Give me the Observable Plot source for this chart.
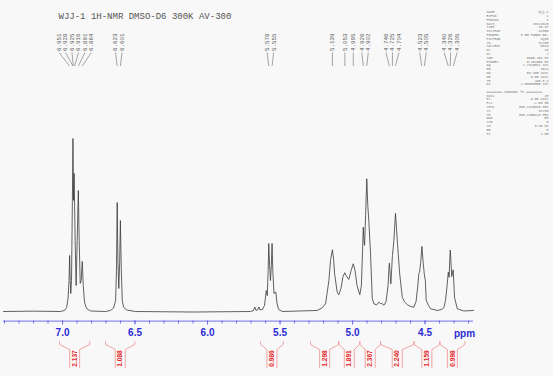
<!DOCTYPE html>
<html><head><meta charset="utf-8">
<script src="https://cdn.jsdelivr.net/npm/d3@7"></script>
<script src="https://cdn.jsdelivr.net/npm/@observablehq/plot@0.6"></script>
<style>html,body{margin:0;padding:0;background:#f8f8f8;} svg{display:block}</style>
</head><body><div id="chart"></div>
<script>
// ---------- data ----------
const titleText = "WJJ-1 1H-NMR DMSO-D6 300K AV-300";

// spectrum trace: [ppm, relative intensity %]
const spectrum = [
[7.407,0],[7.200,0.2],[7.014,0],[6.986,0.6],[6.972,2.3],[6.962,7.5],[6.955,17.9],[6.951,32.4],[6.947,17.9],[6.943,10.4],[6.938,17.9],[6.932,64.2],[6.928,100],[6.924,64.2],[6.920,79.8],[6.913,41.0],[6.906,15.0],[6.899,41.0],[6.891,69.9],[6.885,41.0],[6.878,16.2],[6.871,17.9],[6.864,28.9],[6.857,15.0],[6.848,5.2],[6.834,1.7],[6.807,0.3],[6.703,0],[6.669,0.6],[6.648,2.0],[6.634,6.4],[6.628,23.7],[6.623,63.0],[6.618,29.5],[6.612,13.3],[6.606,28.3],[6.601,52.6],[6.595,24.9],[6.588,6.4],[6.579,2.6],[6.559,0.9],[6.497,0],
[6.100,-0.3],[5.703,0],[5.683,0.6],[5.674,2.6],[5.666,0.6],[5.655,0.9],[5.646,2.6],[5.638,0.9],[5.621,1.2],[5.607,3.5],[5.595,12.1],[5.588,9.2],[5.582,23.7],[5.578,39.3],[5.572,26.6],[5.566,17.9],[5.560,26.6],[5.555,39.3],[5.550,23.7],[5.542,10.4],[5.529,11.3],[5.521,4.6],[5.510,1.2],[5.483,0],
[5.243,0.6],[5.207,2.3],[5.186,4.6],[5.163,17.9],[5.152,29.5],[5.139,35.7],[5.131,30.6],[5.124,22.0],[5.106,11.2],[5.095,9.7],[5.080,13.3],[5.066,20.2],[5.053,22.4],[5.045,20.8],[5.026,18.5],[5.010,23.7],[4.995,27.6],[4.983,23.7],[4.969,15.0],[4.950,9.7],[4.939,15.0],[4.931,35.3],[4.926,48.7],[4.921,41.0],[4.917,38.2],[4.910,55.5],[4.902,76.7],[4.895,61.3],[4.888,52.6],[4.876,33.4],[4.864,7.5],[4.853,4.5],[4.834,3.8],[4.819,5.4],[4.807,4.6],[4.796,4.5],[4.783,3.6],[4.769,5.8],[4.755,15.0],[4.750,23.7],[4.746,27.9],[4.740,20.8],[4.736,16.0],[4.730,24.9],[4.725,32.4],[4.715,41.0],[4.709,49.7],[4.704,56.8],[4.697,48.0],[4.690,39.1],[4.675,21.8],[4.657,8.1],[4.641,5.5],[4.623,4.0],[4.600,2.9],[4.577,2.5],[4.562,5.8],[4.550,15.0],[4.543,22.0],[4.538,22.7],[4.530,28.3],[4.522,37.6],[4.513,28.3],[4.505,21.4],[4.498,17.9],[4.492,6.4],[4.476,3.5],[4.462,1.6],[4.416,0.6],[4.386,1.2],[4.370,2.3],[4.359,6.4],[4.348,15.0],[4.340,22.7],[4.334,19.8],[4.330,29.5],[4.326,35.5],[4.316,20.2],[4.306,24.1],[4.297,8.3],[4.278,1.6],[4.233,0.3],[4.166,0.6]
];

const peakLabels = [6.951, 6.928, 6.925, 6.916, 6.891, 6.864, 6.623, 6.601, 5.578, 5.555,
  5.139, 5.053, 4.995, 4.926, 4.902, 4.746, 4.725, 4.704, 4.523, 4.505, 4.340, 4.326, 4.305];

const integralFrom   = [7.021, 6.703, 5.634, 5.290, 5.095, 4.950, 4.807, 4.577, 4.398];
const integralTo     = [6.812, 6.501, 5.478, 5.095, 4.950, 4.807, 4.577, 4.398, 4.225];
const integralValues = ["2.137", "1.088", "0.986", "1.298", "1.891", "2.367", "2.240", "1.159", "0.998"];

const majorTicks = [7.0, 6.5, 6.0, 5.5, 5.0, 4.5];
const minorTicks = [7.4, 7.3, 7.2, 7.1, 7.0, 6.9, 6.8, 6.7, 6.6, 6.5, 6.4, 6.3, 6.2, 6.1, 6.0, 5.9, 5.8, 5.7, 5.6,
  5.5, 5.4, 5.3, 5.2, 5.1, 5.0, 4.9, 4.8, 4.7, 4.6, 4.5, 4.4, 4.3, 4.2];
const axisUnit = "ppm";

const paramNames = ["NAME","EXPNO","PROCNO","Date_","Time","INSTRUM","PROBHD","PULPROG","TD","SOLVENT","NS","DS",
  "SWH","FIDRES","AQ","RG","DW","DE","TE","D1","","======== CHANNEL f1 ========","NUC1","P1","PL1","SFO1","SI","SF","WDW","SSB","LB","GB","PC"];
const paramValues = ["wjj-1","1","1","20111025","15.37","av300","5 mm PABBO BB-","zg30","32768","DMSO","16","2",
  "5995.204 Hz","0.182959 Hz","2.7329011 sec","1024","83.400 usec","6.50 usec","298.0 K","2.00000000 sec","","",
  "1H","9.80 usec","-2.00 dB","300.1328515 MHz","32768","300.1300113 MHz","EM","0","0.30 Hz","0","1.00"];

// ---------- layout ----------
const W = 553, H = 376;
const X_DOMAIN = [7.407, 4.166], X_RANGE = [3, 473];
const BASE_PX = 311, TOP_PX = 138;
const yv = px => (BASE_PX - px) * 100 / (BASE_PX - TOP_PX);
const pxPerPpm = (X_RANGE[1] - X_RANGE[0]) / (X_DOMAIN[0] - X_DOMAIN[1]);

// spread peak labels so they don't overlap
function spread(vals, sep) {
  const sorted = [...vals].sort((a, b) => b - a);
  let clusters = [];
  for (const v of sorted) {
    clusters.push({m: [v], c: v});
    while (clusters.length > 1) {
      const b = clusters[clusters.length - 1], a = clusters[clusters.length - 2];
      const aLow = a.c - (a.m.length - 1) * sep / 2;
      const bHigh = b.c + (b.m.length - 1) * sep / 2;
      if (aLow - bHigh < sep) {
        const m = a.m.concat(b.m);
        clusters.splice(-2, 2, {m, c: d3.mean(m)});
      } else break;
    }
  }
  const out = [];
  for (const cl of clusters) {
    const n = cl.m.length;
    cl.m.forEach((v, k) => out.push({ppm: v, lx: cl.c + ((n - 1) / 2 - k) * sep}));
  }
  return out;
}
const labels = spread(peakLabels, 6.5 / pxPerPpm);

const BOX = 5 / pxPerPpm;
const integrals = integralFrom.map((a, i) => ({a, b: integralTo[i], c: (a + integralTo[i]) / 2, v: integralValues[i]}));
const segs = integrals.flatMap(({a, b, c}) => [
  {x1: a, y1: yv(340.7), x2: a, y2: yv(344)},
  {x1: a, y1: yv(344), x2: c + BOX, y2: yv(349)},
  {x1: c + BOX, y1: yv(349), x2: c + BOX, y2: yv(367.5)},
  {x1: b, y1: yv(340.7), x2: b, y2: yv(344)},
  {x1: b, y1: yv(344), x2: c - BOX, y2: yv(349)},
  {x1: c - BOX, y1: yv(349), x2: c - BOX, y2: yv(367.5)}
]);

const AXIS = "#6f6ff2", AXIS_TEXT = "#2b2bd6", RED_LINE = "#f29a9a", RED_TEXT = "#e41e26";
const MONO = "'Liberation Mono', 'DejaVu Sans Mono', monospace";
const SANS = "'Liberation Sans', Arial, sans-serif";

const chart = Plot.plot({
  width: W, height: H,
  marginLeft: 3, marginRight: 80, marginTop: 0, marginBottom: 55.5,
  style: {background: "#f8f8f8", overflow: "visible"},
  x: {domain: X_DOMAIN, range: X_RANGE, axis: null},
  y: {domain: [0, 100], range: [BASE_PX, TOP_PX], axis: null},
  marks: [
    Plot.line(spectrum, {x: d => d[0], y: d => d[1], stroke: "#3a3a3a", strokeWidth: 0.8}),
    // axis
    Plot.ruleY([yv(320.6)], {x1: () => X_DOMAIN[0], x2: () => X_DOMAIN[1], stroke: AXIS, strokeWidth: 1}),
    Plot.axisX({ticks: minorTicks, tickSize: 3, tickFormat: () => "", stroke: AXIS, label: null}),
    Plot.axisX({ticks: majorTicks, tickSize: 4, tickPadding: 4, tickFormat: d3.format(".1f"),
      stroke: AXIS, fill: AXIS_TEXT, fontWeight: "bold", fontSize: 10, fontFamily: SANS, label: null}),
    Plot.text([axisUnit], {x: () => 4.228, y: () => yv(333), text: d => d, fill: AXIS_TEXT,
      fontWeight: "bold", fontSize: 10, fontFamily: SANS}),
    // peak labels
    Plot.link(labels, {x1: "lx", y1: () => yv(52), x2: "ppm", y2: () => yv(65.5), stroke: "#808080", strokeWidth: 0.7}),
    Plot.text(labels, {x: "lx", y: () => yv(50.5), text: d => d.ppm.toFixed(3), rotate: -90, textAnchor: "start",
      fill: "#5a5a5a", fontSize: 5.8, fontFamily: MONO}),
    // integrals
    Plot.link(segs, {x1: "x1", y1: "y1", x2: "x2", y2: "y2", stroke: RED_LINE, strokeWidth: 0.9}),
    Plot.text(integrals, {x: "c", y: () => yv(358), text: "v", rotate: -90, fill: RED_TEXT,
      fontSize: 6.6, fontWeight: "bold", fontFamily: SANS}),
    // title & parameters
    Plot.text([titleText], {frameAnchor: "top-left", dx: 55, dy: 12, text: d => d, textAnchor: "start",
      fill: "#555", fontSize: 9, fontFamily: MONO}),
    Plot.text([paramNames.join("\n")], {frameAnchor: "top-right", dx: 13, dy: 10, text: d => d, textAnchor: "start",
      lineAnchor: "top", lineHeight: 1.15, fill: "#777", fontSize: 3.3, fontFamily: MONO}),
    Plot.text([paramValues.join("\n")], {frameAnchor: "top-right", dx: 75, dy: 10, text: d => d, textAnchor: "end",
      lineAnchor: "top", lineHeight: 1.15, fill: "#777", fontSize: 3.3, fontFamily: MONO})
  ]
});
document.getElementById("chart").appendChild(chart);
</script></body></html>
